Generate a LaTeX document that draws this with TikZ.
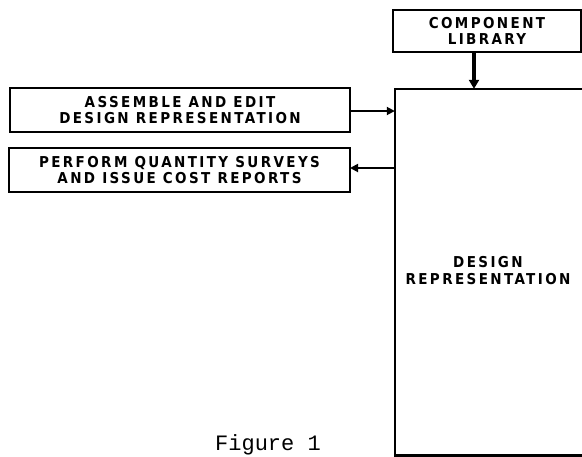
\documentclass[tikz,border=0pt]{standalone}
\usepackage{fontspec}
\setmainfont{DejaVu Sans}
\newfontfamily\lettering[LetterSpace=16]{DejaVu Sans Condensed Bold}
\newfontfamily\typew{Liberation Mono}
\usetikzlibrary{arrows.meta}
\begin{document}
\begin{tikzpicture}[x=1pt,y=-1pt,
  box/.style={draw, line width=2.6pt, rectangle, inner sep=0pt, align=center,
    font=\lettering\fontsize{15}{16}\selectfont},
  lbl/.style={align=center, font=\lettering\fontsize{15}{17}\selectfont},
  conn/.style={line width=1.8pt, -{Triangle[length=8pt,width=8pt]}},
  fat/.style={line width=3.2pt, -{Triangle[length=9pt,width=10pt]}}]
\useasboundingbox (0,0) rectangle (582,456);
\node[box, minimum width=188pt, minimum height=42pt] (comp) at (487,31) {COMPONENT\\LIBRARY};
\node[box, minimum width=340pt, minimum height=44pt] (asm) at (180,110) {ASSEMBLE AND EDIT\\DESIGN REPRESENTATION};
\node[box, minimum width=341pt, minimum height=44pt] (qty) at (179.5,170) {PERFORM QUANTITY SURVEYS\\AND ISSUE COST REPORTS};
\node[minimum width=187pt, minimum height=366pt, inner sep=0pt] (big) at (488.5,272) {};
\draw[line width=2.6pt] (big.north east) -- (big.north west) -- (big.south west) -- (big.south east);
\node[lbl] (dr) at (488,271) {DESIGN\\REPRESENTATION};
\coordinate (a1) at (350,111);
\coordinate (a2) at (350,168);
\coordinate (c1) at (474,52);
\draw[conn] (a1) -- (a1 -| big.west);
\draw[conn] (a2 -| big.west) -- (a2);
\draw[fat] (c1) -- (c1 |- big.north);
\node[font=\typew\fontsize{22}{22}\selectfont, anchor=base, inner sep=0pt] (fig) at (268,450) {Figure 1};
\end{tikzpicture}
\end{document}
